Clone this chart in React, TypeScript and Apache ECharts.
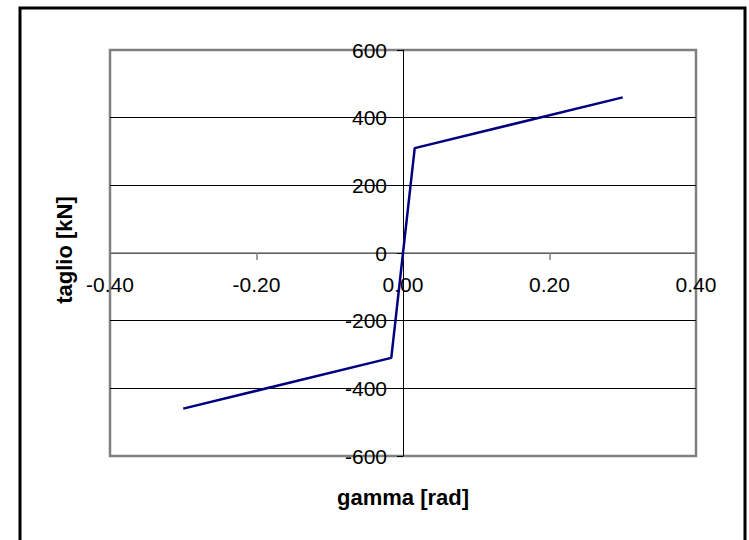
import React, { useEffect, useRef } from "react";
import * as echarts from "echarts";

const gamma = [-0.3, -0.016, 0.016, 0.3];
const taglio = [-460, -310, 310, 460];
const xTicks = { min: -0.4, max: 0.4, interval: 0.2 };
const yTicks = { min: -600, max: 600, interval: 200 };
const xTitle = "gamma [rad]";
const yTitle = "taglio [kN]";

const FONT = '"Liberation Sans", Arial, sans-serif';
const GRID = { left: 110, right: 53, top: 50, bottom: 84 };
const W = 749;
const H = 540;

export default function App() {
  const ref = useRef<HTMLDivElement>(null);
  useEffect(() => {
    document.body.style.margin = "0";
    const plotW = W - GRID.left - GRID.right;
    const plotH = H - GRID.top - GRID.bottom;
    const xZeroOffset = -((0 - xTicks.min) / (xTicks.max - xTicks.min)) * plotW;
    const yZeroOffset = -((0 - yTicks.min) / (yTicks.max - yTicks.min)) * plotH;
    const chart = echarts.init(ref.current!, null, { renderer: "svg" });
    chart.setOption({
      animation: false,
      backgroundColor: "#ffffff",
      grid: {
        ...GRID,
        show: true,
        borderColor: "#808080",
        borderWidth: 2.5,
      },
      xAxis: {
        type: "value",
        position: "bottom",
        offset: yZeroOffset,
        min: xTicks.min,
        max: xTicks.max,
        interval: xTicks.interval,
        axisLine: { onZero: false, lineStyle: { color: "#808080", width: 1.5 } },
        axisTick: { show: true, inside: false, length: 7, lineStyle: { color: "#808080", width: 1.5 } },
        axisLabel: {
          color: "#000",
          fontFamily: FONT,
          fontSize: 21,
          margin: 21,
          formatter: (v: number) => v.toFixed(2),
        },
        splitLine: { show: false },
      },
      yAxis: {
        type: "value",
        position: "left",
        offset: xZeroOffset,
        min: yTicks.min,
        max: yTicks.max,
        interval: yTicks.interval,
        axisLine: { show: true, onZero: false, lineStyle: { color: "#000", width: 1 } },
        axisTick: { show: true, inside: false, length: 6, lineStyle: { color: "#000", width: 1 } },
        axisLabel: {
          color: "#000",
          fontFamily: FONT,
          fontSize: 21,
          margin: 16,
        },
        splitLine: {
          show: true,
          showMinLine: false,
          showMaxLine: false,
          lineStyle: { color: "#000", width: 1 },
        },
      },
      series: [
        {
          type: "line",
          data: gamma.map((g, i) => [g, taglio[i]]),
          symbol: "none",
          lineStyle: { color: "#000080", width: 2.5 },
          z: 5,
        },
      ],
      graphic: [
        {
          type: "rect",
          shape: { x: 20, y: 8, width: 725, height: 545 },
          style: { fill: "none", stroke: "#000", lineWidth: 3 },
          silent: true,
        },
        {
          type: "text",
          x: 403,
          y: 497,
          style: {
            text: xTitle,
            font: `bold 22px ${FONT}`,
            fill: "#000",
            align: "center",
            verticalAlign: "middle",
          },
        },
        {
          type: "text",
          x: 64,
          y: 250,
          rotation: Math.PI / 2,
          style: {
            text: yTitle,
            font: `bold 22px ${FONT}`,
            fill: "#000",
            align: "center",
            verticalAlign: "middle",
          },
        },
      ],
    });
    return () => chart.dispose();
  }, []);
  return <div ref={ref} style={{ width: W, height: H }} />;
}
